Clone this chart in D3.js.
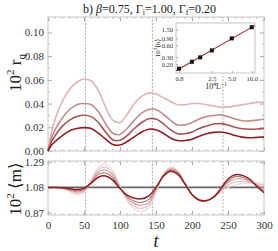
<!DOCTYPE html>
<html>
<head>
<meta charset="utf-8">
<script src="https://cdn.jsdelivr.net/npm/d3@7"></script>
<style>
  body { margin: 0; background: #fff; }
  svg text { font-family: "Liberation Serif", "DejaVu Serif", serif; fill: #222; }
  .tick line { stroke: #aaa; }
  .tick text { fill: #333; }
</style>
</head>
<body>
<div class="canva"></div>
<script>
// time grid
var times = [0, 5, 10, 20, 30, 40, 50, 60, 70, 80, 90, 100, 110, 120, 130, 140, 150,
             160, 170, 180, 190, 200, 210, 220, 230, 240, 250, 260, 270, 280, 290, 300];

// 10^2 r_q, lightest to darkest
var rq1 = [0, 0.016, 0.027, 0.042, 0.052, 0.058, 0.0607, 0.059, 0.051, 0.037, 0.026, 0.024, 0.031, 0.040, 0.046, 0.049, 0.048,
           0.045, 0.042, 0.039, 0.039, 0.040, 0.040, 0.039, 0.038, 0.037, 0.037, 0.038, 0.039, 0.040, 0.041, 0.041];
var rq2 = [0, 0.011, 0.018, 0.028, 0.035, 0.039, 0.040, 0.039, 0.033, 0.023, 0.015, 0.014, 0.019, 0.026, 0.032, 0.035, 0.035,
           0.031, 0.026, 0.022, 0.022, 0.024, 0.027, 0.029, 0.030, 0.0305, 0.029, 0.027, 0.0255, 0.0254, 0.026, 0.0268];
var rq3 = [0, 0.008, 0.013, 0.021, 0.026, 0.029, 0.0302, 0.029, 0.024, 0.016, 0.0095, 0.009, 0.013, 0.019, 0.024, 0.0272, 0.027,
           0.023, 0.018, 0.0145, 0.0145, 0.016, 0.019, 0.021, 0.0228, 0.0231, 0.022, 0.020, 0.0187, 0.0183, 0.0185, 0.019];
var rq4 = [0, 0.005, 0.008, 0.013, 0.017, 0.019, 0.0197, 0.019, 0.015, 0.010, 0.0055, 0.005, 0.008, 0.012, 0.016, 0.0183, 0.018,
           0.015, 0.011, 0.0088, 0.0088, 0.010, 0.0125, 0.0145, 0.0157, 0.016, 0.015, 0.013, 0.0117, 0.0112, 0.0115, 0.0119];

// 10^2 <m>, lightest to darkest
var m1 = [1.08, 1.079, 1.078, 1.07, 1.045, 1.02, 1.04, 1.14, 1.25, 1.275, 1.22, 1.09, 0.97, 0.90, 0.88, 0.91, 1.04,
          1.19, 1.25, 1.22, 1.12, 1.02, 0.97, 0.965, 0.99, 1.04, 1.08, 1.10, 1.11, 1.115, 1.118, 1.118];
var m2 = [1.08, 1.08, 1.079, 1.072, 1.052, 1.032, 1.048, 1.135, 1.23, 1.25, 1.20, 1.085, 0.98, 0.92, 0.905, 0.935, 1.05,
          1.185, 1.24, 1.215, 1.12, 1.02, 0.97, 0.966, 0.995, 1.05, 1.10, 1.125, 1.13, 1.12, 1.11, 1.10];
var m3 = [1.08, 1.08, 1.079, 1.074, 1.058, 1.042, 1.056, 1.13, 1.21, 1.225, 1.18, 1.08, 0.995, 0.945, 0.93, 0.955, 1.06,
          1.18, 1.232, 1.21, 1.115, 1.02, 0.972, 0.968, 0.998, 1.06, 1.12, 1.15, 1.15, 1.13, 1.10, 1.075];
var m4 = [1.08, 1.08, 1.08, 1.076, 1.064, 1.052, 1.064, 1.12, 1.19, 1.20, 1.16, 1.075, 1.005, 0.965, 0.955, 0.98, 1.07,
          1.175, 1.224, 1.20, 1.112, 1.02, 0.973, 0.969, 1.0, 1.065, 1.135, 1.17, 1.165, 1.14, 1.095, 1.05];
var m5 = [1.08, 1.08, 1.08, 1.078, 1.07, 1.062, 1.072, 1.115, 1.165, 1.175, 1.14, 1.07, 1.015, 0.99, 0.985, 1.01, 1.08,
          1.17, 1.215, 1.19, 1.11, 1.02, 0.975, 0.97, 1.0, 1.07, 1.15, 1.185, 1.18, 1.15, 1.09, 1.035];
var mEq = 1.08;

var markTimes = [52, 145, 243];

// inset: 10^4 L^-1 vs 10^3 <h>
var invL = [0.8, 1.25, 1.67, 2.5, 5.0, 10.0];
var hVals = [0.152, 0.228, 0.295, 0.444, 0.90, 1.73];

var xTicks = [0, 50, 100, 150, 200, 250, 300];
var rqTicks = [0, 0.02, 0.04, 0.06, 0.08, 0.10];
var mTicks = [0.87, 1.08, 1.29];
var insetXTicks = [0.8, 2.5, 5.0, 10.0];
var insetYTicks = [0.20, 0.30, 0.60, 0.90, 1.50];

var rqColors = ["#dcb5b6", "#c28c8e", "#a65557", "#8b2123"];
var mColors = ["#efd9d9", "#e3c0c1", "#d2a2a3", "#bb7678", "#8b2123"];

const svg = d3.select(".canva").append("svg")
              .attr("width", 278)
              .attr("height", 251);

var x = d3.scaleLinear().domain([0, 300]).range([48, 264]);
var yTop = d3.scaleLinear().domain([0, 0.113]).range([151, 17]);
var yBot = d3.scaleLinear().domain([0.85, 1.30]).range([215, 161]);

function frame(y, ticksY, minorY, showX) {
    var y0 = y.range()[0], y1 = y.range()[1];
    var g = svg.append("g");
    // minor ticks
    var minorX = d3.range(0, 301, 10);
    minorX.forEach(function(t) {
        g.append("line").attr("x1", x(t)).attr("x2", x(t)).attr("y1", y0).attr("y2", y0 - 2).attr("stroke", "#bbb");
        g.append("line").attr("x1", x(t)).attr("x2", x(t)).attr("y1", y1).attr("y2", y1 + 2).attr("stroke", "#bbb");
    });
    minorY.forEach(function(v) {
        g.append("line").attr("x1", 48).attr("x2", 50).attr("y1", y(v)).attr("y2", y(v)).attr("stroke", "#bbb");
        g.append("line").attr("x1", 264).attr("x2", 262).attr("y1", y(v)).attr("y2", y(v)).attr("stroke", "#bbb");
    });
    var axB = d3.axisBottom(x).tickValues(xTicks).tickSizeInner(-4).tickSizeOuter(0).tickPadding(6);
    var gb = g.append("g").attr("transform", "translate(0," + y0 + ")").call(axB);
    if (!showX) gb.selectAll("text").remove();
    gb.selectAll("text").style("font-size", "11px");
    var axT = d3.axisTop(x).tickValues(xTicks).tickSizeInner(-4).tickSizeOuter(0).tickFormat("");
    g.append("g").attr("transform", "translate(0," + y1 + ")").call(axT);
    var axL = d3.axisLeft(y).tickValues(ticksY).tickSizeInner(-4).tickSizeOuter(0).tickPadding(4)
                .tickFormat(d3.format(".2f"));
    g.append("g").attr("transform", "translate(48,0)").call(axL).selectAll("text").style("font-size", "11px");
    var axR = d3.axisRight(y).tickValues(ticksY).tickSizeInner(-4).tickSizeOuter(0).tickFormat("");
    g.append("g").attr("transform", "translate(264,0)").call(axR);
    g.selectAll(".domain").remove();
    g.selectAll(".tick line").attr("stroke", "#aaa");
    g.append("rect").attr("x", 48).attr("y", y1).attr("width", 216).attr("height", y0 - y1)
     .attr("fill", "none").attr("stroke", "#c4c4c4").attr("stroke-width", 1);
}

frame(yTop, rqTicks, d3.range(0.01, 0.111, 0.02), false);
frame(yBot, mTicks, [], true);

// dashed guide lines
[yTop, yBot].forEach(function(y) {
    svg.selectAll(null).data(markTimes).enter().append("line")
       .attr("x1", d => x(d)).attr("x2", d => x(d))
       .attr("y1", y.range()[0]).attr("y2", y.range()[1])
       .attr("stroke", "#b0b0b0").attr("stroke-width", 1).attr("stroke-dasharray", "2,1.5");
});

var topLine = d3.line().x((d, i) => x(times[i])).y(d => yTop(d)).curve(d3.curveCatmullRom);
var botLine = d3.line().x((d, i) => x(times[i])).y(d => yBot(d)).curve(d3.curveCatmullRom);

svg.selectAll(".rq").data([rq1, rq2, rq3, rq4]).enter().append("path")
   .attr("class", "rq").attr("d", topLine).attr("fill", "none")
   .attr("stroke", (d, i) => rqColors[i]).attr("stroke-width", 1.6);

svg.append("line").attr("x1", x(0)).attr("x2", x(300)).attr("y1", yBot(mEq)).attr("y2", yBot(mEq))
   .attr("stroke", "#666").attr("stroke-width", 1.8);

svg.selectAll(".mm").data([m1, m2, m3, m4, m5]).enter().append("path")
   .attr("class", "mm").attr("d", botLine).attr("fill", "none")
   .attr("stroke", (d, i) => mColors[i]).attr("stroke-width", (d, i) => i == 4 ? 1.5 : 1.2);

// title
var title = svg.append("text").attr("x", 83).attr("y", 13).style("font-size", "12px");
title.append("tspan").text("b)  ");
title.append("tspan").style("font-style", "italic").text("β");
title.append("tspan").text("=0.75, Γ");
title.append("tspan").attr("dy", 2).style("font-size", "8px").text("i");
title.append("tspan").attr("dy", -2).text("=1.00, Γ");
title.append("tspan").attr("dy", 2).style("font-size", "8px").text("f");
title.append("tspan").attr("dy", -2).text("=0.20");

// y labels
var yl1 = svg.append("text").attr("transform", "translate(21,73) rotate(-90)")
             .attr("text-anchor", "middle").style("font-size", "17px");
yl1.append("tspan").text("10");
yl1.append("tspan").attr("dy", -7).style("font-size", "11px").text("2");
yl1.append("tspan").attr("dy", 7).text(" r");
yl1.append("tspan").attr("dy", 4).style("font-size", "11px").text("q");

var yl2 = svg.append("text").attr("transform", "translate(21,189) rotate(-90)")
             .attr("text-anchor", "middle").style("font-size", "17px");
yl2.append("tspan").text("10");
yl2.append("tspan").attr("dy", -7).style("font-size", "11px").text("2");
yl2.append("tspan").attr("dy", 7).text(" ⟨m⟩");

svg.append("text").attr("x", 156).attr("y", 247).attr("text-anchor", "middle")
   .style("font-size", "18px").style("font-style", "italic").text("t");

// inset
var ix = d3.scaleLog().domain([0.72, 11.2]).range([176, 255]);
var iy = d3.scaleLog().domain([0.118, 2.22]).range([73, 23]);
var inset = svg.append("g");
inset.append("rect").attr("x", 176).attr("y", 23).attr("width", 79).attr("height", 50)
     .attr("fill", "#fff").attr("stroke", "#c4c4c4");
var iax = inset.append("g").attr("transform", "translate(0,73)")
     .call(d3.axisBottom(ix).tickValues(insetXTicks).tickSizeInner(-2).tickSizeOuter(0).tickPadding(3)
           .tickFormat(d3.format(".1f")));
var iay = inset.append("g").attr("transform", "translate(176,0)")
     .call(d3.axisLeft(iy).tickValues(insetYTicks).tickSizeInner(-2).tickSizeOuter(0).tickPadding(3)
           .tickFormat(d3.format(".2f")));
inset.selectAll(".domain").remove();
inset.selectAll(".tick text").style("font-size", "6.5px");

// least-squares fit in log-log
var lx = invL.map(Math.log10), ly = hVals.map(Math.log10);
var mx = d3.mean(lx), my = d3.mean(ly);
var slope = d3.sum(lx.map((v, i) => (v - mx) * (ly[i] - my))) / d3.sum(lx.map(v => (v - mx) * (v - mx)));
var icpt = my - slope * mx;
var fitX = ix.domain();
inset.append("line")
     .attr("x1", ix(fitX[0])).attr("y1", iy(Math.pow(10, icpt + slope * Math.log10(fitX[0]))))
     .attr("x2", ix(fitX[1])).attr("y2", iy(Math.pow(10, icpt + slope * Math.log10(fitX[1]))))
     .attr("stroke", "#a52a2a").attr("stroke-width", 1.1);
inset.selectAll(".pt").data(invL).enter().append("rect")
     .attr("x", d => ix(d) - 2).attr("y", (d, i) => iy(hVals[i]) - 2)
     .attr("width", 4).attr("height", 4).attr("fill", "#111");

var ixl = inset.append("text").attr("x", 216).attr("y", 89).attr("text-anchor", "middle").style("font-size", "8px");
ixl.append("tspan").text("10");
ixl.append("tspan").attr("dy", -3).style("font-size", "5.5px").text("4");
ixl.append("tspan").attr("dy", 3).text("L");
ixl.append("tspan").attr("dy", -3).style("font-size", "5.5px").text("−1");

var iyl = inset.append("text").attr("transform", "translate(160,48) rotate(-90)")
               .attr("text-anchor", "middle").style("font-size", "7px");
iyl.append("tspan").text("10");
iyl.append("tspan").attr("dy", -3).style("font-size", "5px").text("3");
iyl.append("tspan").attr("dy", 3).text("⟨h⟩");
</script>
</body>
</html>
